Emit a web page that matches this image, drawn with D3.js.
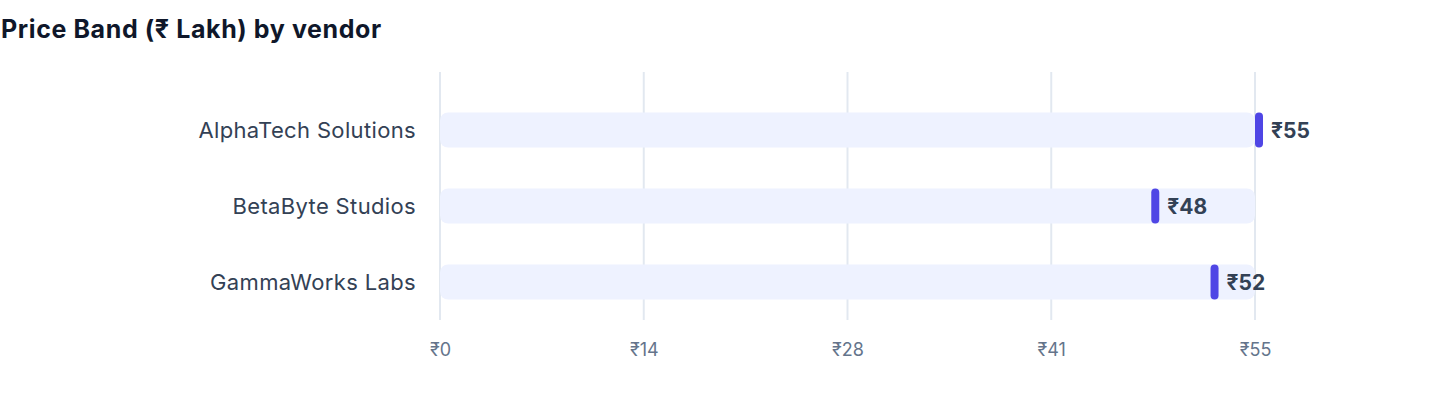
<!DOCTYPE html>
<html lang="en">
<head>
<meta charset="utf-8">
<title>Price Band by vendor</title>
<script src="https://d3js.org/d3.v7.min.js"></script>
<style>
  body { margin: 0; background: #fff; font-family: Inter, "Liberation Sans", sans-serif; }
  .title { font-size: 25px; font-weight: 700; fill: #0f172a; letter-spacing: 0.6px; }
  .cat { font-size: 22px; fill: #334155; letter-spacing: 0.35px; }
  .val { font-size: 21px; font-weight: 700; fill: #334155; }
  .tick text { font-size: 18px; fill: #64748b; }
</style>
</head>
<body>
<svg width="1440" height="408"></svg>
<script>
// data
var vendors = ["AlphaTech Solutions", "BetaByte Studios", "GammaWorks Labs"];
var prices = [55, 48, 52];
var maxPrice = 55;
var tickValues = [0, 13.75, 27.5, 41.25, 55];

var svg = d3.select("svg");
var margin = {top: 72, right: 185, bottom: 88, left: 440};
var width = +svg.attr("width") - margin.left - margin.right;
var height = +svg.attr("height") - margin.top - margin.bottom;

svg.append("text").attr("class", "title")
  .attr("x", 1).attr("y", 38)
  .text("Price Band (₹ Lakh) by vendor");

var g = svg.append("g").attr("transform", `translate(${margin.left},${margin.top})`);

var x = d3.scaleLinear().domain([0, maxPrice]).range([0, width]);
var y = d3.scaleBand().domain(vendors).range([20, height]).padding(0);

// gridlines
g.selectAll(".grid").data(tickValues).join("line")
  .attr("x1", d => x(d)).attr("x2", d => x(d))
  .attr("y1", 0).attr("y2", height)
  .attr("stroke", "#e2e8f0").attr("stroke-width", 2);

// x axis labels
var xAxis = g.append("g")
  .attr("transform", `translate(0,${height})`)
  .call(d3.axisBottom(x).tickValues(tickValues).tickSize(0).tickPadding(23)
    .tickFormat(d => "₹" + Math.round(d)));
xAxis.select(".domain").remove();
xAxis.selectAll("text").attr("font-family", "Inter, sans-serif");

var rows = vendors.map((v, i) => ({vendor: v, price: prices[i]}));
var barH = 35;

// tracks
g.selectAll(".track").data(rows).join("rect")
  .attr("x", 0)
  .attr("y", d => y(d.vendor) + y.bandwidth() / 2 - barH / 2)
  .attr("width", x(maxPrice))
  .attr("height", barH)
  .attr("rx", 8)
  .attr("fill", "#eef2ff");

// markers
g.selectAll(".marker").data(rows).join("rect")
  .attr("x", d => x(d.price))
  .attr("y", d => y(d.vendor) + y.bandwidth() / 2 - barH / 2)
  .attr("width", 8)
  .attr("height", barH)
  .attr("rx", 4)
  .attr("fill", "#4f46e5");

// value labels
g.selectAll(".val").data(rows).join("text")
  .attr("class", "val")
  .attr("x", d => x(d.price) + 16)
  .attr("y", d => y(d.vendor) + y.bandwidth() / 2)
  .attr("dy", "0.36em")
  .text(d => "₹" + d.price);

// category labels
g.selectAll(".cat").data(rows).join("text")
  .attr("class", "cat")
  .attr("x", -24)
  .attr("y", d => y(d.vendor) + y.bandwidth() / 2)
  .attr("dy", "0.36em")
  .attr("text-anchor", "end")
  .text(d => d.vendor);
</script>
</body>
</html>
